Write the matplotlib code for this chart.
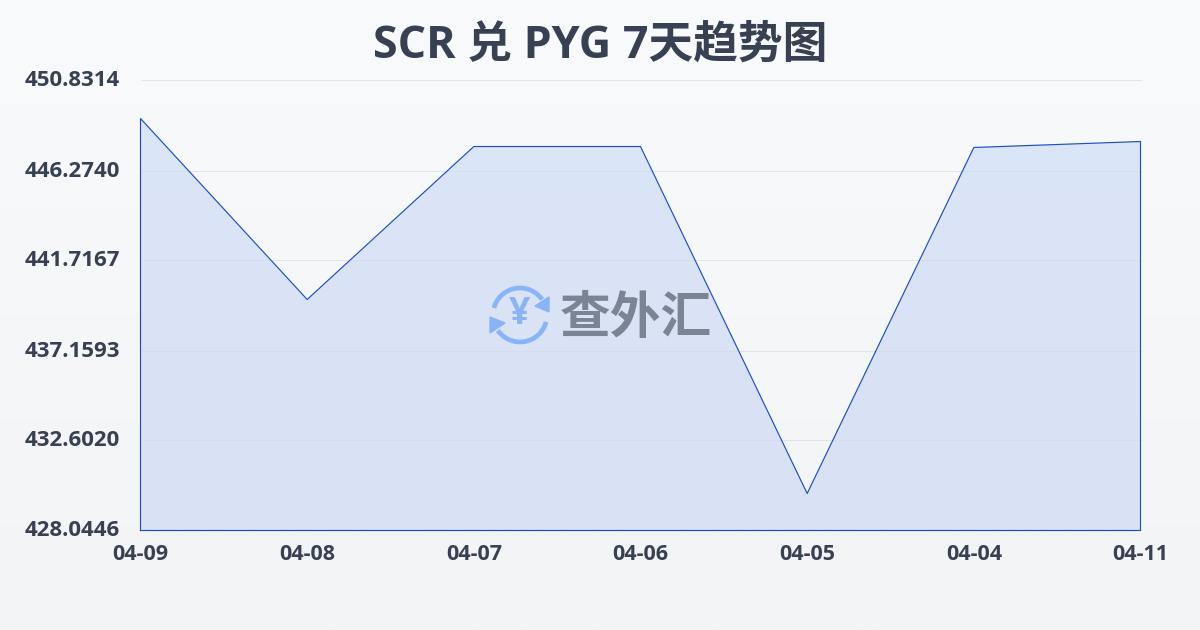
import numpy as np
import matplotlib
matplotlib.use('Agg')
import matplotlib.pyplot as plt
from matplotlib.colors import LinearSegmentedColormap
from matplotlib.patches import Arc, Polygon
from matplotlib.transforms import ScaledTranslation

dates = ['04-09', '04-08', '04-07', '04-06', '04-05', '04-04', '04-11']
rates = [448.907, 439.742, 447.489, 447.489, 429.918, 447.439, 447.742]
y_ticks = [428.0446, 432.6020, 437.1593, 441.7167, 446.2740, 450.8314]

FONT = ['Open Sans', 'Noto Sans CJK SC', 'DejaVu Sans']
TEXT = '#374151'
LINE = '#1d4fc4'
plt.rcParams['font.family'] = FONT

W, H = 1200, 630
fig = plt.figure(figsize=(W / 100, H / 100), dpi=100)

# page background ---------------------------------------------------------
bg = fig.add_axes([0, 0, 1, 1], zorder=0)
bg_cmap = LinearSegmentedColormap.from_list('bg', ['#f9fafc', '#f3f4f6'])
bg.imshow(np.linspace(0, 1, 256).reshape(-1, 1), aspect='auto', cmap=bg_cmap, extent=[0, 1, 0, 1])
bg.axis('off')

# chart -------------------------------------------------------------------
ax = fig.add_axes([140.5 / W, 1 - 530.5 / H, 1000 / W, 450 / H], zorder=1)
ax.patch.set_alpha(0)
x = np.arange(len(dates))
ax.set_xlim(0, len(dates) - 1)
ax.set_ylim(y_ticks[0], y_ticks[-1])

fill_cmap = LinearSegmentedColormap.from_list('fill', ['#dbe6f8', '#d9e1f4'])
poly = ax.fill_between(x, rates, y_ticks[0], color='none', zorder=1)
grad = ax.imshow(np.linspace(0, 1, 256).reshape(-1, 1), aspect='auto', cmap=fill_cmap,
                 extent=[0, len(dates) - 1, y_ticks[0], y_ticks[-1]], zorder=1)
grad.set_clip_path(poly.get_paths()[0], transform=ax.transData)

ax.grid(axis='y', color='#d6dce6', linewidth=0.7, alpha=0.7, zorder=2, clip_on=False)
ax.set_axisbelow(False)

# outline closes down both sides and along the base
ax.plot(np.r_[x[0], x, x[-1], x[0]], np.r_[y_ticks[0], rates, y_ticks[0], y_ticks[0]],
        color=LINE, linewidth=0.85, zorder=3, clip_on=False)

for side in ax.spines.values():
    side.set_visible(False)

ax.set_xticks(x)
ax.set_xticklabels(dates, fontsize=15.5, fontweight='bold', color=TEXT)
ax.set_yticks(y_ticks)
ax.set_yticklabels(['{:.4f}'.format(v) for v in y_ticks], fontsize=16, fontweight='bold', color=TEXT)
ax.tick_params(axis='x', length=0, pad=10)
ax.tick_params(axis='y', length=0, pad=14.6)
# y labels sit a little above their gridlines
up = ScaledTranslation(0, 2 / 100, fig.dpi_scale_trans)
for lab in ax.get_yticklabels():
    lab.set_transform(lab.get_transform() + up)
for gl in ax.get_ygridlines():
    gl.set_clip_on(False)

fig.text(600 / W, 1 - 46 / H, 'SCR 兑 PYG 7天趋势图', fontsize=32.2, fontweight='bold',
         color=TEXT, ha='center', va='center')

# watermark ---------------------------------------------------------------
wm = fig.add_axes([0, 0, 1, 1], zorder=2)
wm.set_xlim(0, W)
wm.set_ylim(H, 0)
wm.axis('off')
BLUE = '#8ab4f8'
wm.add_patch(Arc((520, 315), 54, 54, theta1=195, theta2=325, color=BLUE, linewidth=3.4))
wm.add_patch(Arc((520, 315), 54, 54, theta1=15, theta2=145, color=BLUE, linewidth=3.4))
wm.add_patch(Polygon([[549, 297], [549, 312], [535, 306]], color=BLUE))
wm.add_patch(Polygon([[490, 317], [505, 323], [490, 333]], color=BLUE))
wm.text(520, 314, '¥', fontsize=27, fontweight='bold', color=BLUE, ha='center', va='center')
wm.text(636, 318, '查外汇', fontsize=36.5, fontweight='bold', color='#7a8494',
        family=['Noto Sans CJK SC', 'DejaVu Sans'], ha='center', va='center')

fig.savefig('out.png', dpi=100)
